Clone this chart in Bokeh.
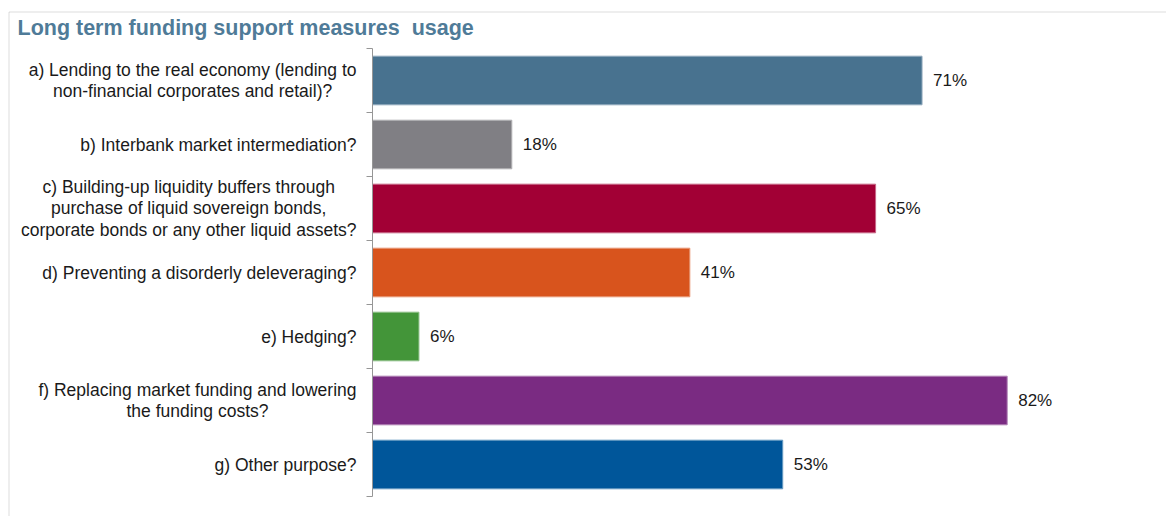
from bokeh.plotting import figure
from bokeh.models import Range1d, LinearAxis, FixedTicker, ColumnDataSource, BoxAnnotation
from bokeh.core.properties import value
from bokeh.embed import file_html
from bokeh.resources import INLINE

# ---------------- data ----------------
title_text = "Long term funding support measures\u00a0 usage"
categories = [
    "a) Lending to the real economy (lending to\nnon-financial corporates and retail)?",
    "b) Interbank market intermediation?",
    "c) Building-up liquidity buffers through\npurchase of liquid sovereign bonds,\ncorporate bonds or any other liquid assets?",
    "d) Preventing a disorderly deleveraging?",
    "e) Hedging?",
    "f) Replacing market funding and lowering\nthe funding costs?",
    "g) Other purpose?",
]
values = [71, 18, 65, 41, 6, 82, 53]

# ---------------- styles ----------------
bar_colors = ["#48728F", "#807F84", "#A20035", "#D8541D", "#439539", "#7A2B82", "#00569A"]
TITLE_COLOR = "#4F7B98"
TEXT_COLOR = "#1A1A1A"
AXIS_COLOR = "#969696"
BORDER_COLOR = "#8C8C8C"
FONT = "Liberation Sans"
LABEL_FS = 17.5
VALUE_FS = 17
TITLE_FS = 21.5

W, H = 1166, 516
AXIS_X = 372          # pixel position of the category axis
PX_PER_UNIT = 7.74    # pixels per percentage point
ROW_H = 64            # pixels per category row
TOP = 48              # pixel position of top of the axis
LABEL_RIGHT = 356     # right edge of the category label block


def lighten(hex_color, f=0.4):
    r, g, b = (int(hex_color[i:i + 2], 16) for i in (1, 3, 5))
    r, g, b = (round(c + (255 - c) * f) for c in (r, g, b))
    return "#%02X%02X%02X" % (r, g, b)


# Arial / Liberation Sans advance widths (per 1000 em) for centring multi-line labels
_W = {" ": 278, "(": 333, ")": 333, ",": 278, "-": 333, ".": 278, "?": 556,
      "I": 278, "L": 556, "B": 667, "P": 667, "H": 722, "R": 722, "O": 778,
      "c": 500, "f": 278, "i": 222, "j": 222, "k": 500, "l": 222, "m": 833,
      "r": 333, "s": 500, "t": 278, "v": 500, "w": 722, "x": 500, "y": 500, "z": 500}


def text_width(s, fs):
    return max(sum(_W.get(ch, 556) for ch in line) for line in s.split("\n")) * fs / 1000.0


n = len(categories)
rows = [n - i - 0.5 for i in range(n)]
edge_colors = [lighten(c) for c in bar_colors]
value_labels = [f"{v}%" for v in values]
label_x = [LABEL_RIGHT - text_width(c, LABEL_FS) / 2.0 for c in categories]

src = ColumnDataSource(dict(cat=categories, val=values, y=rows, color=bar_colors,
                            edge=edge_colors, vlabel=value_labels, lx=label_x))

p = figure(width=W, height=H, output_backend="svg", toolbar_location=None,
           x_axis_type=None, y_axis_type=None,
           x_range=Range1d(-AXIS_X / PX_PER_UNIT, (W - AXIS_X) / PX_PER_UNIT),
           y_range=Range1d(-(H - TOP - n * ROW_H) / ROW_H, n + TOP / ROW_H),
           min_border=0, min_border_left=0, min_border_right=0,
           min_border_top=0, min_border_bottom=0)
p.outline_line_color = None
p.background_fill_color = "white"
p.border_fill_color = "white"
p.extra_x_ranges = {"px": Range1d(0, W)}
p.extra_y_ranges = {"py": Range1d(H, 0)}

# outer frame (top and left edges visible, the rest runs off the page)
p.add_layout(BoxAnnotation(left=8.5, right=W + 200, top=11.5, bottom=H + 200,
                           x_range_name="px", y_range_name="py",
                           fill_alpha=0, fill_color=None,
                           line_color=BORDER_COLOR, line_width=1, level="underlay"))

# bars
p.hbar(y="y", left=0, right="val", height=0.76, source=src,
       fill_color="color", line_color="edge", line_width=1)

# category axis
ax = LinearAxis(fixed_location=0, ticker=FixedTicker(ticks=list(range(n + 1))),
                bounds=(0, n), axis_line_color=AXIS_COLOR, axis_line_width=1,
                major_tick_line_color=AXIS_COLOR, major_tick_in=0, major_tick_out=6,
                minor_tick_line_color=None, major_label_text_font_size="0px",
                major_label_overrides={i: "" for i in range(n + 1)})
p.add_layout(ax, "left")

# category labels
p.text(x="lx", y="y", text="cat", source=src, x_range_name="px",
       text_align="center", text_baseline="middle", text_line_height=1.07,
       text_font=value(FONT), text_font_size=f"{LABEL_FS}px", text_color=TEXT_COLOR)

# value labels
p.text(x="val", y="y", text="vlabel", source=src, x_offset=11,
       text_align="left", text_baseline="middle",
       text_font=value(FONT), text_font_size=f"{VALUE_FS}px", text_color=TEXT_COLOR)

# title
p.text(x=[17], y=[27], text=[title_text], x_range_name="px", y_range_name="py",
       text_baseline="middle", text_align="left",
       text_font=value(FONT), text_font_style="bold",
       text_font_size=f"{TITLE_FS}px", text_color=TITLE_COLOR)

open("out.html", "w").write(file_html(p, INLINE))
